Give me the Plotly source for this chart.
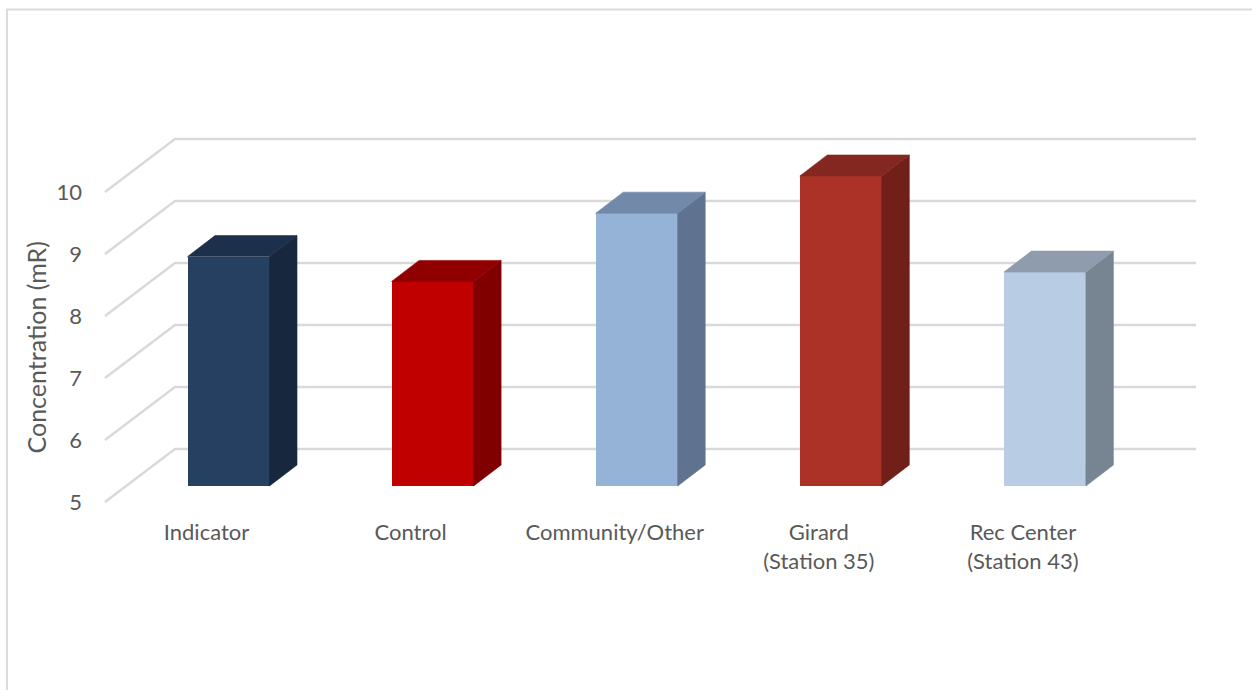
import plotly.graph_objects as go

# Exposure by monitoring group
categories = ["Indicator", "Control", "Community/Other", "Girard<br>(Station 35)", "Rec Center<br>(Station 43)"]
concentration = [8.70, 8.30, 9.40, 10.0, 8.45]
y_ticks = [5, 6, 7, 8, 9, 10]

front_colors = ["#254061", "#C00000", "#95B3D7", "#AC3228", "#B8CCE4"]
side_colors = ["#17283E", "#800000", "#5F7290", "#701F19", "#778593"]
top_colors = ["#1C2F4B", "#900000", "#7289AA", "#842720", "#8E9CAE"]

W, H = 1252, 690
FONT = "Lato, 'Open Sans', sans-serif"
TEXT = "#595959"
GRID = "#D9D9D9"

# Scale of the drawing: pixels per category step and per concentration unit
PX_PER_CAT = 204.1
PX_PER_UNIT = 62.0
PLOT_BOTTOM_PX = 517
BAR_CAT_PX = 228.5    # first category on the bar-front plane
LABEL_CAT_PX = 206.5  # first category on the label plane
LABEL_FLOOR_PX = 502  # where 5 sits on the label plane
BAR_FLOOR_PX = 486    # where 5 sits on the bar-front plane
BASE = y_ticks[0]

label_x = lambda px: (px - LABEL_CAT_PX) / PX_PER_CAT
half_w = 41 / PX_PER_CAT
bar_dx = 27.5 / PX_PER_CAT
bar_dy = 21 / PX_PER_UNIT
wall_dy = 53 / PX_PER_UNIT


def x_range(first_px):
    return [-first_px / PX_PER_CAT, (W - first_px) / PX_PER_CAT]


def y_range(floor_px):
    return [BASE - (PLOT_BOTTOM_PX - floor_px) / PX_PER_UNIT, BASE + floor_px / PX_PER_UNIT]


fig = go.Figure()

# Gridlines: a diagonal on the side wall, then the run along the back wall
grid_x, grid_y = [], []
for v in y_ticks:
    grid_x += [label_x(105), label_x(175), label_x(1196), None]
    grid_y += [v, v + wall_dy, v + wall_dy, None]
fig.add_trace(go.Scatter(x=grid_x, y=grid_y, mode="lines", xaxis="x", yaxis="y",
                         line=dict(color=GRID, width=2.4), hoverinfo="skip", showlegend=False))

# Front faces of the columns
xs = list(range(len(categories)))
fig.add_trace(go.Bar(x=xs, y=[v - BASE for v in concentration], base=BASE, width=2 * half_w,
                     xaxis="x2", yaxis="y2", marker=dict(color=front_colors, line=dict(width=0)),
                     hovertemplate="%{customdata}<extra></extra>", customdata=concentration,
                     showlegend=False))

# Side and top faces, extruded from each column's value; a hairline stroke closes the seams
for i, v in enumerate(concentration):
    left, right = i - half_w, i + half_w
    fig.add_trace(go.Scatter(
        x=[right, right + bar_dx, right + bar_dx, right, right],
        y=[BASE, BASE + bar_dy, v + bar_dy, v, BASE],
        mode="lines", fill="toself", fillcolor=side_colors[i],
        line=dict(width=0.6, color=side_colors[i]),
        xaxis="x2", yaxis="y2", hoverinfo="skip", showlegend=False))
    fig.add_trace(go.Scatter(
        x=[left, left + bar_dx, right + bar_dx, right, left],
        y=[v, v + bar_dy, v + bar_dy, v, v],
        mode="lines", fill="toself", fillcolor=top_colors[i],
        line=dict(width=0.6, color=top_colors[i]),
        xaxis="x2", yaxis="y2", hoverinfo="skip", showlegend=False))

y_domain = [(H - PLOT_BOTTOM_PX) / H, 1]
fig.update_layout(
    width=W, height=H, margin=dict(l=0, r=0, t=0, b=0),
    paper_bgcolor="white", plot_bgcolor="rgba(0,0,0,0)",
    font=dict(family=FONT, size=22, color=TEXT),
    bargap=0,
    xaxis=dict(domain=[0, 1], range=x_range(LABEL_CAT_PX), tickmode="array", tickvals=xs,
               ticktext=categories, showgrid=False, zeroline=False, showline=False,
               ticks="", tickfont=dict(family=FONT, size=22, color=TEXT), tickangle=0,
               anchor="y", fixedrange=True),
    xaxis2=dict(domain=[0, 1], range=x_range(BAR_CAT_PX), overlaying="x", anchor="y2",
                visible=False, fixedrange=True),
    yaxis=dict(domain=y_domain, range=y_range(LABEL_FLOOR_PX),
               anchor="free", position=82 / W, side="left", tickmode="array", tickvals=y_ticks,
               showgrid=False, zeroline=False, showline=False, ticks="",
               tickfont=dict(family=FONT, size=22, color=TEXT), fixedrange=True),
    yaxis2=dict(domain=y_domain, range=y_range(BAR_FLOOR_PX),
                overlaying="y", anchor="x2", visible=False, fixedrange=True),
    annotations=[dict(text="Concentration (mR)", textangle=-90, x=35 / W, y=(H - 347.5) / H,
                      xref="paper", yref="paper", showarrow=False, xanchor="center",
                      yanchor="middle", font=dict(family=FONT, size=25, color=TEXT))],
    shapes=[
        dict(type="line", xref="paper", yref="paper", x0=6.5 / W, x1=1, y0=(H - 9.5) / H, y1=(H - 9.5) / H,
             line=dict(color="#DCDCDC", width=2)),
        dict(type="line", xref="paper", yref="paper", x0=7 / W, x1=7 / W, y0=0, y1=(H - 9) / H,
             line=dict(color="#DCDCDC", width=2)),
    ],
)

fig.write_html("out.html")
